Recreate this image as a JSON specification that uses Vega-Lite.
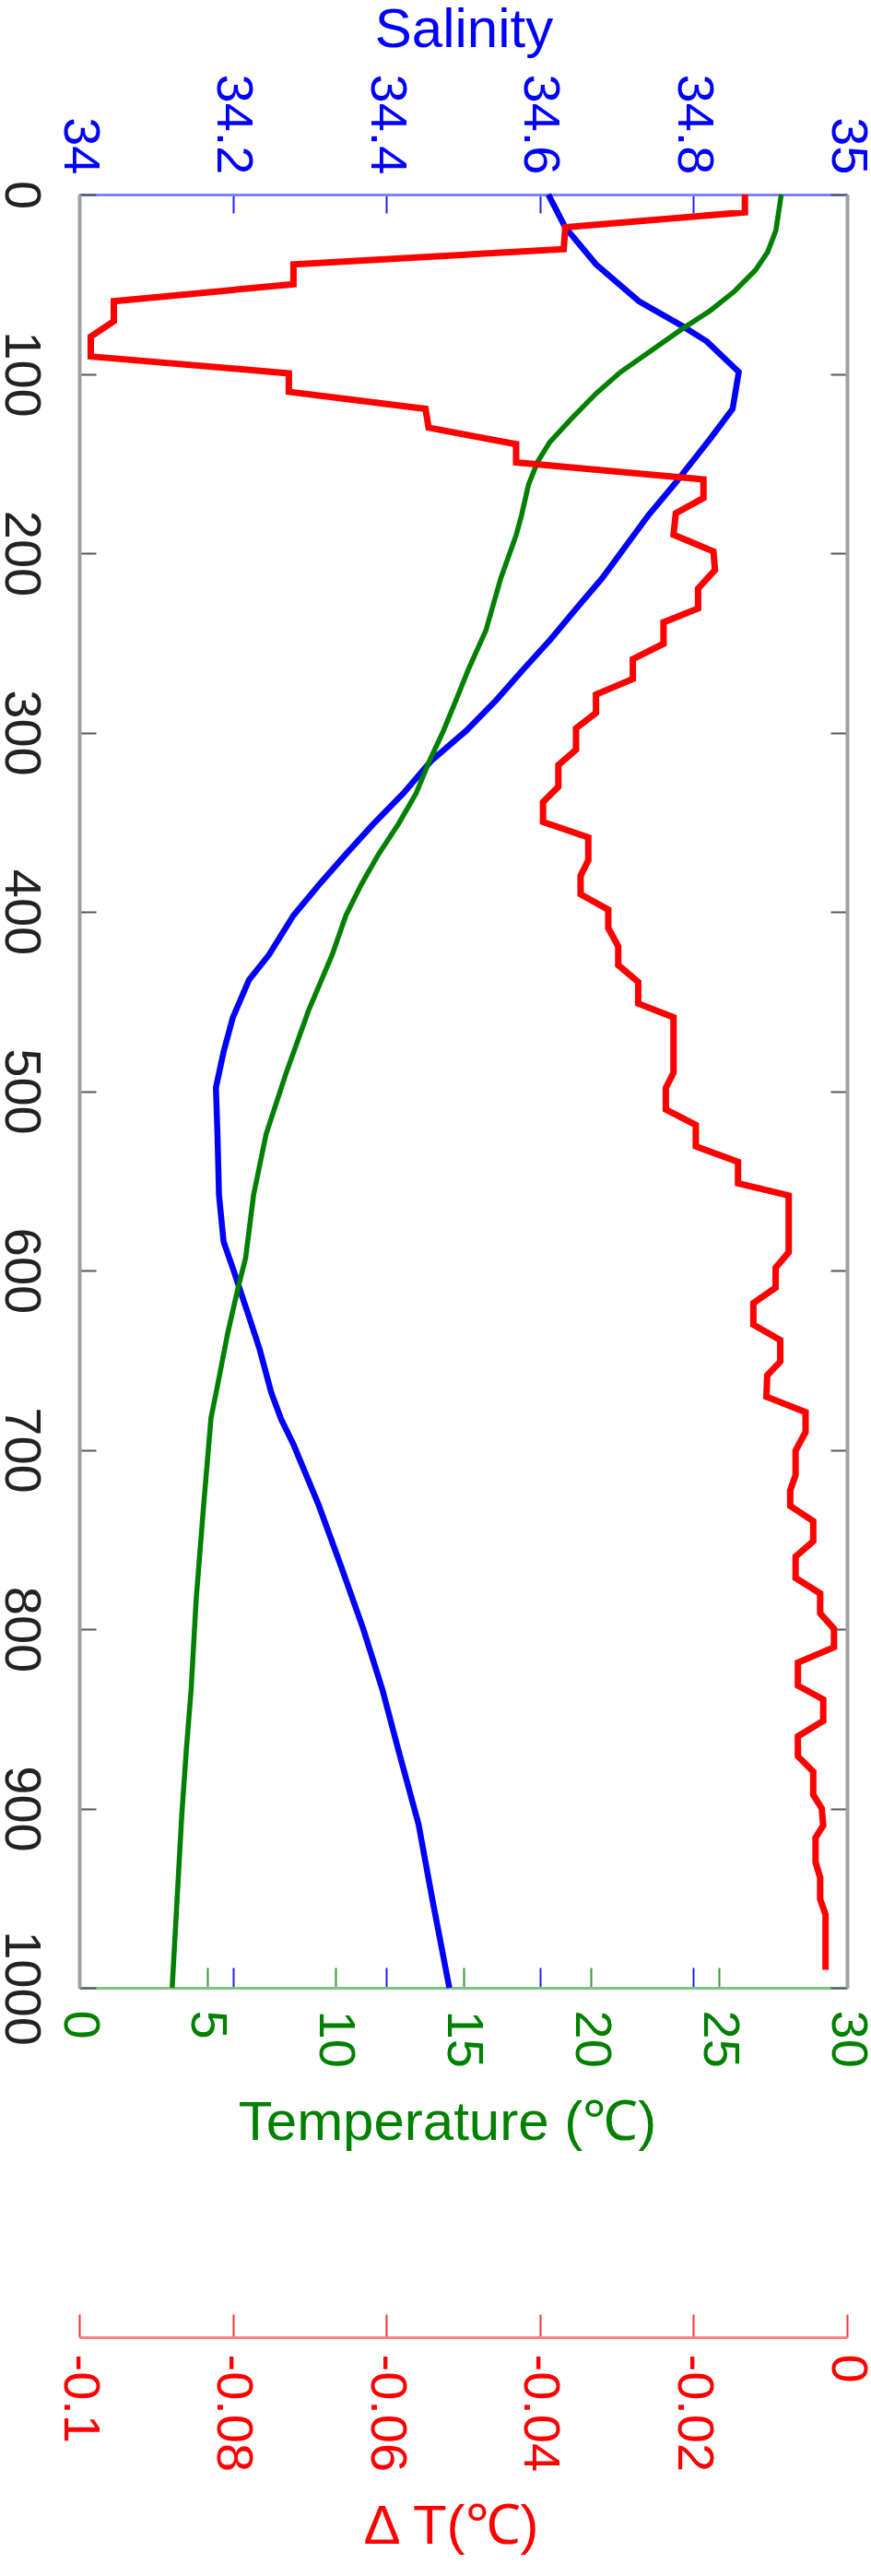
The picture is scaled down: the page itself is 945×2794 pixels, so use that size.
{
  "$schema": "https://vega.github.io/schema/vega-lite/v6.json",
  "width": 833,
  "height": 1945,
  "autosize": {"type": "none"},
  "padding": {"left": 86, "top": 211, "right": 26, "bottom": 638},
  "background": "white",
  "config": {"view": {"stroke": null}, "font": "Liberation Sans"},
  "datasets": {
    "sal": [
      {"d":0,"v":34.611},{"d":18.3,"v":34.633},{"d":38.9,"v":34.673},{"d":59.5,"v":34.729},{"d":73.2,"v":34.785},{"d":81.8,"v":34.817},{"d":98.9,"v":34.859},{"d":119.5,"v":34.851},{"d":136.6,"v":34.821},{"d":160.6,"v":34.777},{"d":179,"v":34.741},{"d":214,"v":34.681},{"d":231,"v":34.647},{"d":248,"v":34.614},{"d":265,"v":34.578},{"d":282,"v":34.543},{"d":299,"v":34.504},{"d":316,"v":34.458},{"d":334,"v":34.422},{"d":351,"v":34.383},{"d":368,"v":34.347},{"d":385,"v":34.312},{"d":402,"v":34.279},{"d":424,"v":34.247},{"d":438,"v":34.221},{"d":459,"v":34.2},{"d":478,"v":34.188},{"d":498,"v":34.178},{"d":524,"v":34.18},{"d":558,"v":34.182},{"d":584,"v":34.188},{"d":600,"v":34.201},{"d":627,"v":34.222},{"d":644,"v":34.235},{"d":668,"v":34.25},{"d":683,"v":34.263},{"d":697,"v":34.279},{"d":731,"v":34.312},{"d":765,"v":34.341},{"d":800,"v":34.37},{"d":834,"v":34.395},{"d":868,"v":34.416},{"d":909,"v":34.442},{"d":951,"v":34.46},{"d":1000,"v":34.482}
    ],
    "temp": [
      {"d":0,"v":27.43},{"d":20,"v":27.22},{"d":32,"v":26.9},{"d":42,"v":26.43},{"d":54,"v":25.6},{"d":65,"v":24.63},{"d":75,"v":23.55},{"d":87,"v":22.35},{"d":99,"v":21.15},{"d":111,"v":20.19},{"d":125,"v":19.23},{"d":138,"v":18.39},{"d":149,"v":17.91},{"d":162,"v":17.55},{"d":179,"v":17.28},{"d":190,"v":17.07},{"d":214,"v":16.47},{"d":243,"v":15.89},{"d":265,"v":15.2},{"d":282,"v":14.72},{"d":299,"v":14.23},{"d":316,"v":13.68},{"d":334,"v":13.16},{"d":351,"v":12.47},{"d":368,"v":11.69},{"d":385,"v":11.01},{"d":402,"v":10.42},{"d":424,"v":9.88},{"d":455,"v":8.96},{"d":490,"v":8.08},{"d":524,"v":7.3},{"d":558,"v":6.81},{"d":593,"v":6.5},{"d":610,"v":6.2},{"d":635,"v":5.8},{"d":668,"v":5.35},{"d":682,"v":5.15},{"d":731,"v":4.86},{"d":783,"v":4.57},{"d":834,"v":4.37},{"d":868,"v":4.18},{"d":905,"v":4.0},{"d":1000,"v":3.63}
    ],
    "dt": [
      {"d":0,"v":-0.0133},{"d":9.9,"v":-0.0133},{"d":18.3,"v":-0.0367},{"d":30.4,"v":-0.0369},{"d":39,"v":-0.0721},{"d":50,"v":-0.0721},{"d":59.5,"v":-0.0955},{"d":70.6,"v":-0.0955},{"d":79.2,"v":-0.0985},{"d":90.3,"v":-0.0985},{"d":99.7,"v":-0.0727},{"d":110,"v":-0.0727},{"d":119.5,"v":-0.0549},{"d":130,"v":-0.0545},{"d":139.2,"v":-0.0431},{"d":149.4,"v":-0.0431},{"d":158.9,"v":-0.0187},{"d":169.2,"v":-0.0187},{"d":177.7,"v":-0.0223},{"d":189.7,"v":-0.0226},{"d":199,"v":-0.0174},{"d":209.4,"v":-0.0172},{"d":219.7,"v":-0.0194},{"d":230.8,"v":-0.0194},{"d":238.5,"v":-0.0239},{"d":250.5,"v":-0.0239},{"d":259.1,"v":-0.0279},{"d":270.2,"v":-0.0279},{"d":278.8,"v":-0.0327},{"d":289.1,"v":-0.0327},{"d":297.7,"v":-0.0353},{"d":309.6,"v":-0.0353},{"d":318.2,"v":-0.0376},{"d":330.2,"v":-0.0376},{"d":338.8,"v":-0.0396},{"d":349.9,"v":-0.0396},{"d":358.5,"v":-0.0337},{"d":371.3,"v":-0.0337},{"d":379.9,"v":-0.0347},{"d":390.2,"v":-0.0347},{"d":398.8,"v":-0.0311},{"d":409,"v":-0.0311},{"d":419.3,"v":-0.0298},{"d":429.7,"v":-0.0298},{"d":439.1,"v":-0.0272},{"d":451.1,"v":-0.0272},{"d":458.8,"v":-0.0226},{"d":489.7,"v":-0.0226},{"d":498.2,"v":-0.0236},{"d":510.2,"v":-0.0236},{"d":518.8,"v":-0.0197},{"d":530.8,"v":-0.0197},{"d":539.4,"v":-0.0142},{"d":551.4,"v":-0.0142},{"d":558.2,"v":-0.0076},{"d":589.9,"v":-0.0076},{"d":598.5,"v":-0.0093},{"d":609.6,"v":-0.0093},{"d":618.2,"v":-0.0122},{"d":630.2,"v":-0.0122},{"d":638.8,"v":-0.0087},{"d":650.8,"v":-0.0087},{"d":658.5,"v":-0.0104},{"d":670.4,"v":-0.0105},{"d":679,"v":-0.0054},{"d":690.1,"v":-0.0054},{"d":700.4,"v":-0.0067},{"d":714.1,"v":-0.0067},{"d":722.7,"v":-0.0074},{"d":731.3,"v":-0.0074},{"d":739.8,"v":-0.0044},{"d":751,"v":-0.0044},{"d":759.5,"v":-0.0067},{"d":771.5,"v":-0.0067},{"d":780.1,"v":-0.0035},{"d":791.2,"v":-0.0035},{"d":799.8,"v":-0.0017},{"d":810.1,"v":-0.0017},{"d":818.7,"v":-0.0064},{"d":831.5,"v":-0.0064},{"d":839.2,"v":-0.0031},{"d":851.2,"v":-0.0031},{"d":859.8,"v":-0.0064},{"d":870.9,"v":-0.0064},{"d":879.5,"v":-0.0044},{"d":892.4,"v":-0.0044},{"d":900,"v":-0.0033},{"d":909.5,"v":-0.0031},{"d":916.3,"v":-0.0041},{"d":930,"v":-0.0041},{"d":938.6,"v":-0.0035},{"d":950.6,"v":-0.0035},{"d":959.2,"v":-0.0028},{"d":990,"v":-0.0028}
    ]
  },
  "layer": [
    {
      "data": {"name": "sal"},
      "mark": {"type": "line", "color": "#0000ff", "strokeWidth": 6.5},
      "encoding": {
        "x": {"field": "v", "type": "quantitative", "scale": {"domain": [34, 35], "nice": false, "zero": false},
          "axis": {"orient": "top", "values": [34, 34.2, 34.4, 34.6, 34.8, 35], "labelExpr": "'' + datum.value", "grid": false,
            "labelAngle": 90, "labelAlign": "right", "labelBaseline": "middle", "labelFont": "Liberation Sans", "labelFontSize": 56,
            "labelColor": "#0000ff", "labelPadding": 42, "labelFlush": false, "labelOverlap": false,
            "tickColor": "#2020ff", "tickSize": -20, "tickWidth": 2, "domainColor": "#8080ff", "domainWidth": 3,
            "title": "Salinity", "titleFont": "Liberation Sans", "titleFontSize": 60, "titleFontWeight": "normal", "titleColor": "#0000ff",
            "titleX": 417, "titleY": -161, "titleBaseline": "alphabetic", "titleAlign": "center", "titleAngle": 0}},
        "y": {"field": "d", "type": "quantitative", "scale": {"domain": [0, 1000], "reverse": true, "nice": false},
          "axis": {"orient": "left", "values": [0, 100, 200, 300, 400, 500, 600, 700, 800, 900, 1000], "labelExpr": "'' + datum.value", "grid": false,
            "labelAngle": 90, "labelAlign": "center", "labelBaseline": "top", "labelFont": "Liberation Sans", "labelFontSize": 56,
            "labelColor": "#222222", "labelPadding": 55, "labelFlush": false, "labelOverlap": false,
            "tickColor": "#555555", "tickSize": -18, "tickWidth": 2, "domainColor": "#a0a0a0", "domainWidth": 4, "title": null}},
        "order": {"field": "d", "type": "quantitative"}
      }
    },
    {
      "data": {"name": "sal"},
      "mark": {"type": "line", "strokeOpacity": 0},
      "encoding": {
        "x": {"field": "v", "type": "quantitative", "scale": {"domain": [34, 35], "nice": false, "zero": false},
          "axis": {"orient": "bottom", "values": [34.2, 34.4, 34.6, 34.8], "labels": false, "domain": false, "grid": false,
            "tickColor": "#2020ff", "tickSize": -22, "tickWidth": 2, "title": null}},
        "y": {"field": "d", "type": "quantitative", "scale": {"domain": [0, 1000], "reverse": true, "nice": false}, "axis": null},
        "order": {"field": "d", "type": "quantitative"}
      }
    },
    {
      "data": {"name": "temp"},
      "mark": {"type": "line", "color": "#008000", "strokeWidth": 5.5},
      "encoding": {
        "x": {"field": "v", "type": "quantitative", "scale": {"domain": [0, 30], "nice": false, "zero": false},
          "axis": {"orient": "bottom", "values": [0, 5, 10, 15, 20, 25, 30], "labelExpr": "'' + datum.value", "grid": false,
            "labelAngle": 90, "labelAlign": "left", "labelBaseline": "middle", "labelFont": "Liberation Sans", "labelFontSize": 56,
            "labelColor": "#008000", "labelPadding": 46, "labelFlush": false, "labelOverlap": false,
            "tickColor": "#339933", "tickSize": -22, "tickWidth": 2, "domainColor": "#80c080", "domainWidth": 3,
            "title": "Temperature (℃)", "titleFont": "Liberation Sans", "titleFontSize": 60, "titleFontWeight": "normal", "titleColor": "#008000",
            "titleX": 399, "titleY": 164, "titleBaseline": "alphabetic", "titleAlign": "center", "titleAngle": 0}},
        "y": {"field": "d", "type": "quantitative", "scale": {"domain": [0, 1000], "reverse": true, "nice": false},
          "axis": {"orient": "right", "values": [0, 100, 200, 300, 400, 500, 600, 700, 800, 900, 1000], "labels": false, "grid": false,
            "tickColor": "#555555", "tickSize": -18, "tickWidth": 2, "domainColor": "#a0a0a0", "domainWidth": 4, "title": null}},
        "order": {"field": "d", "type": "quantitative"}
      }
    },
    {
      "data": {"name": "dt"},
      "mark": {"type": "line", "color": "#ff0000", "strokeWidth": 7},
      "encoding": {
        "x": {"field": "v", "type": "quantitative", "scale": {"domain": [-0.1, 0], "nice": false, "zero": false},
          "axis": {"orient": "bottom", "offset": 379, "values": [-0.1, -0.08, -0.06, -0.04, -0.02, 0], "labelExpr": "'' + datum.value", "grid": false,
            "labelAngle": 90, "labelAlign": "left", "labelBaseline": "middle", "labelFont": "Liberation Sans", "labelFontSize": 56,
            "labelColor": "#ff0000", "labelPadding": 43, "labelFlush": false, "labelOverlap": false,
            "tickColor": "#ff3030", "tickSize": -25, "tickWidth": 2, "domainColor": "#ff8080", "domainWidth": 3,
            "title": "Δ T(℃)", "titleFont": "Liberation Sans", "titleFontSize": 60, "titleFontWeight": "normal", "titleColor": "#ff0000",
            "titleX": 403, "titleY": 223, "titleBaseline": "alphabetic", "titleAlign": "center", "titleAngle": 0}},
        "y": {"field": "d", "type": "quantitative", "scale": {"domain": [0, 1000], "reverse": true, "nice": false}, "axis": null},
        "order": {"field": "d", "type": "quantitative"}
      }
    }
  ],
  "resolve": {"scale": {"x": "independent", "y": "independent"}, "axis": {"x": "independent", "y": "independent"}}
}
